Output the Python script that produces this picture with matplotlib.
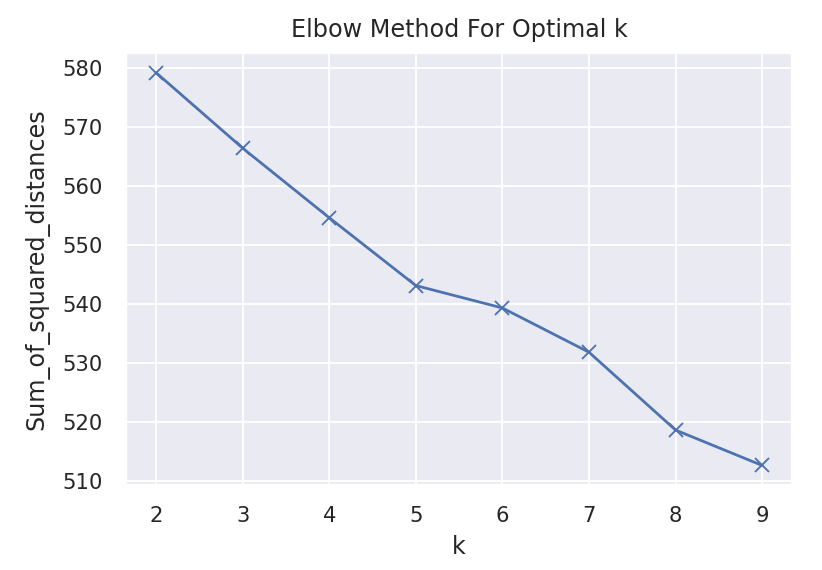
import matplotlib
matplotlib.use("Agg")
import matplotlib.pyplot as plt
import seaborn as sns

# data
K = [2, 3, 4, 5, 6, 7, 8, 9]
sum_of_squared_distances = [579.2, 566.4, 554.6, 543.1, 539.3, 531.8, 518.6, 512.6]

sns.set_theme()  # darkgrid, deep palette, color codes

fig = plt.figure(figsize=(822 / 132, 570 / 132), dpi=132)
ax = fig.add_axes([0.153, 0.149, 0.811, 0.758])

ax.plot(K, sum_of_squared_distances, 'bx-', markersize=8)
ax.set_xlabel('k', fontsize=13, labelpad=5)
ax.set_ylabel('Sum_of_squared_distances', fontsize=13, labelpad=7)
ax.set_title('Elbow Method For Optimal k', fontsize=13, pad=9)
ax.tick_params(axis='y', labelsize=11.5, pad=6.5)
ax.tick_params(axis='x', labelsize=11.5, pad=5.5)

fig.savefig("out.png", dpi=132)
